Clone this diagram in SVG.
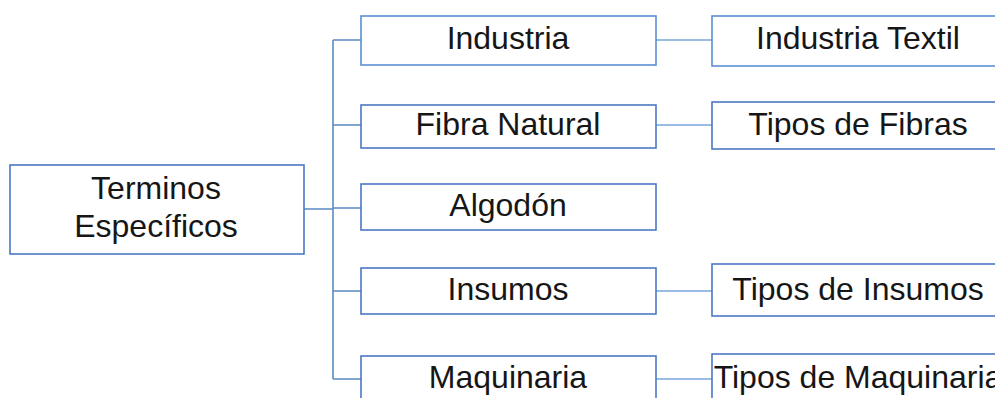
<svg xmlns="http://www.w3.org/2000/svg" width="995" height="398" viewBox="0 0 995 398">
  <style>
    .box { fill: #ffffff; stroke: #4a78c4; stroke-width: 1.6; }
    .box2 { fill: #ffffff; stroke: #5a8fd2; stroke-width: 1.6; }
    .lbl { font-family: "Liberation Sans", Arial, sans-serif; font-size: 32px; fill: #161616; text-anchor: middle; }
    .conn { fill: none; stroke: #5b8ac4; stroke-width: 1.6; }
    .conn2 { fill: none; stroke: #7aa6da; stroke-width: 1.6; }
  </style>
  <rect width="995" height="398" fill="#ffffff"/>

  <!-- connectors -->
  <g id="connectors">
    <path class="conn" d="M304,209 H333 M333,40 V379 M333,40 H361 M333,125 H361 M333,208 H361 M333,291 H361 M333,379 H361"/>
    <path class="conn2" d="M656,40 H712 M656,125 H712 M656,291 H712 M656,379 H712"/>
  </g>

  <!-- root -->
  <g id="terminos">
    <rect class="box" x="10" y="165" width="294" height="89"/>
    <text class="lbl" x="156" y="199">Terminos</text>
    <text class="lbl" x="156" y="237">Específicos</text>
  </g>

  <!-- level 1 -->
  <g id="industria">
    <rect class="box2" x="361" y="16" width="295" height="49"/>
    <text class="lbl" x="508" y="49">Industria</text>
  </g>
  <g id="fibra-natural">
    <rect class="box" x="361" y="105" width="295" height="43"/>
    <text class="lbl" x="508" y="135">Fibra Natural</text>
  </g>
  <g id="algodon">
    <rect class="box" x="361" y="184" width="295" height="46"/>
    <text class="lbl" x="508" y="216">Algodón</text>
  </g>
  <g id="insumos">
    <rect class="box" x="361" y="268" width="295" height="46"/>
    <text class="lbl" x="508" y="300">Insumos</text>
  </g>
  <g id="maquinaria">
    <rect class="box" x="361" y="356" width="295" height="60"/>
    <text class="lbl" x="508" y="388">Maquinaria</text>
  </g>

  <!-- level 2 -->
  <g id="industria-textil">
    <rect class="box2" x="712" y="16" width="292" height="50"/>
    <text class="lbl" x="858" y="49">Industria Textil</text>
  </g>
  <g id="tipos-fibras">
    <rect class="box" x="712" y="102" width="292" height="47"/>
    <text class="lbl" x="858" y="135">Tipos de Fibras</text>
  </g>
  <g id="tipos-insumos">
    <rect class="box" x="712" y="264" width="292" height="52"/>
    <text class="lbl" x="858" y="300">Tipos de Insumos</text>
  </g>
  <g id="tipos-maquinaria">
    <rect class="box" x="712" y="354" width="292" height="60"/>
    <text class="lbl" x="858" y="388">Tipos de Maquinaria</text>
  </g>
</svg>
